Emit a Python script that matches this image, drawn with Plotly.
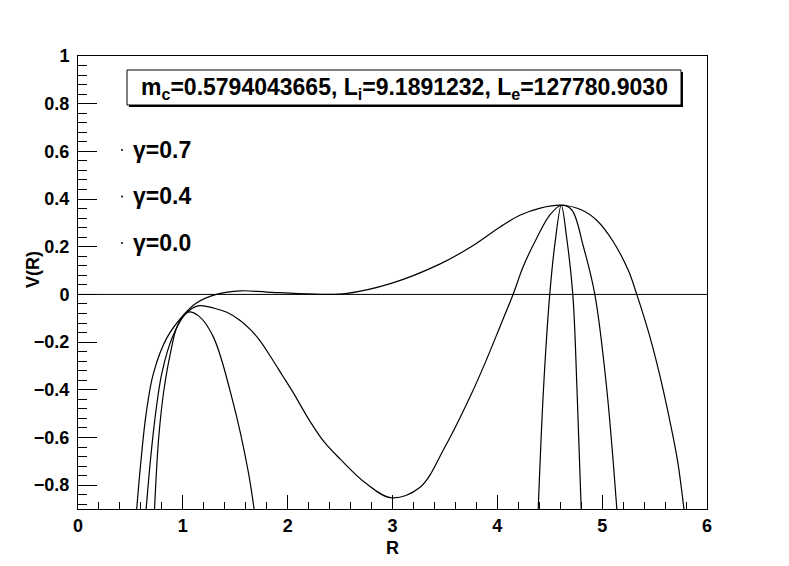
import plotly.graph_objects as go

# gamma = 0.0 curve
r_g00 = [0.56, 0.60, 0.65, 0.72, 0.85, 1.02, 1.13, 1.32, 1.55, 1.80, 2.10, 2.40, 2.55, 2.98, 3.45,
         3.75, 4.03, 4.22, 4.41, 4.61, 4.80, 4.95, 5.10, 5.25, 5.33, 5.45, 5.55, 5.65, 5.72, 5.78]
v_g00 = [-0.90, -0.70, -0.50, -0.33, -0.18, -0.08, -0.036, 0.0, 0.015, 0.010, 0.003, 0.0, 0.003, 0.045, 0.127,
         0.20, 0.284, 0.333, 0.362, 0.374, 0.355, 0.31, 0.225, 0.10, 0.0, -0.17, -0.34, -0.54, -0.70, -0.90]

# gamma = 0.4 curve
r_g04 = [0.65, 0.69, 0.74, 0.80, 0.90, 1.02, 1.145, 1.30, 1.42, 1.55, 1.65, 1.74, 1.85, 1.95, 2.05, 2.21, 2.35,
         2.50, 2.74, 2.99, 3.26, 3.50, 3.75, 3.90, 4.03, 4.15, 4.25, 4.38, 4.50, 4.61, 4.71, 4.82, 4.93, 5.04, 5.14]
v_g04 = [-0.90, -0.70, -0.50, -0.33, -0.18, -0.085, -0.048, -0.058, -0.075, -0.11, -0.15, -0.197, -0.27, -0.34, -0.41, -0.53, -0.62,
         -0.69, -0.79, -0.853, -0.81, -0.64, -0.42, -0.27, -0.13, 0.0, 0.12, 0.24, 0.333, 0.374, 0.354, 0.202, 0.0, -0.38, -0.90]

# gamma = 0.7 curve (two branches inside the visible range)
r_g07 = [0.73, 0.77, 0.82, 0.88, 0.95, 1.05, 1.15, 1.29, 1.48, 1.62, 1.68, None,
         4.39, 4.44, 4.50, 4.55, 4.61, 4.66, 4.72, 4.76, 4.80]
v_g07 = [-0.90, -0.60, -0.40, -0.25, -0.13, -0.074, -0.09, -0.177, -0.454, -0.734, -0.90, None,
         -0.90, -0.40, 0.0, 0.215, 0.374, 0.242, 0.0, -0.40, -0.90]

gamma_labels = ["γ=0.7", "γ=0.4", "γ=0.0"]
info_text = "m<sub>c</sub>=0.5794043665, L<sub>i</sub>=9.1891232, L<sub>e</sub>=127780.9030"

fig = go.Figure()
for xs, ys, name in [(r_g00, v_g00, "γ=0.0"), (r_g04, v_g04, "γ=0.4"), (r_g07, v_g07, "γ=0.7")]:
    fig.add_trace(go.Scatter(x=xs, y=ys, mode="lines", name=name,
                             line=dict(color="black", width=1.2, shape="spline", smoothing=1.0),
                             connectgaps=False, showlegend=False, hoverinfo="skip"))

# zero line
fig.add_shape(type="line", xref="x", yref="y", x0=0, x1=6, y0=0, y1=0,
              line=dict(color="black", width=1))

# The page body has an 8px margin; figure coords = screen coords - 8
OFF = 8
W, H = 789 - 2 * OFF, 566 - 2 * OFF
ml, mt = 78 - OFF, 56 - OFF
mr = W - (707 - OFF)
mb = H - (509 - OFF)
pw, ph = W - ml - mr, H - mt - mb

def px(x):
    return (x - OFF - ml) / pw

def py(y):
    return 1 - (y - OFF - mt) / ph

# info box with shadow
fig.add_shape(type="rect", xref="paper", yref="paper", x0=px(129), x1=px(683), y0=py(107), y1=py(72),
              fillcolor="black", line=dict(width=0), layer="above")
fig.add_shape(type="rect", xref="paper", yref="paper", x0=px(127), x1=px(681), y0=py(105), y1=py(70),
              fillcolor="white", line=dict(color="black", width=1), layer="above")
fig.add_annotation(xref="paper", yref="paper", x=px(404), y=py(88), text=info_text, showarrow=False,
                   font=dict(family="Liberation Sans", size=23, color="black", weight="bold"),
                   xanchor="center", yanchor="middle")

for i, lab in enumerate(gamma_labels):
    yy = 150 + i * 46.5
    fig.add_shape(type="circle", xref="paper", yref="paper",
                  x0=px(121), x1=px(123), y0=py(yy + 1), y1=py(yy - 1),
                  fillcolor="black", line=dict(width=0))
    fig.add_annotation(xref="paper", yref="paper", x=px(131), y=py(yy), text=lab, showarrow=False,
                       font=dict(family="Liberation Sans", size=23, color="black", weight="bold"),
                       xanchor="left", yanchor="middle")

axis_font = dict(family="Liberation Sans", size=18, color="black", weight="bold")

# y-axis title placed as rotated text
fig.add_annotation(xref="paper", yref="paper", x=px(33), y=py(270), text="V(R)", showarrow=False,
                   textangle=-90, font=axis_font, xanchor="center", yanchor="middle")

fig.update_layout(
    width=W, height=H,
    margin=dict(l=ml, r=mr, t=mt, b=mb, pad=0, autoexpand=False),
    paper_bgcolor="white", plot_bgcolor="white",
    xaxis=dict(range=[0, 6], dtick=1, tick0=0, ticks="inside", ticklen=14, tickcolor="black",
               showline=True, linecolor="black", linewidth=1, mirror=True, showgrid=False, zeroline=False,
               tickfont=axis_font, automargin=False,
               minor=dict(dtick=0.2, ticks="inside", ticklen=7, tickcolor="black", showgrid=False),
               title=dict(text="R", font=axis_font, standoff=10)),
    yaxis=dict(range=[-0.9, 1], dtick=0.2, tick0=0, ticks="inside", ticklen=19, tickcolor="black",
               showline=True, linecolor="black", linewidth=1, mirror=True, showgrid=False, zeroline=False,
               tickfont=axis_font, tickformat="~g", automargin=False, ticklabelstandoff=4,
               minor=dict(dtick=0.04, ticks="inside", ticklen=9, tickcolor="black", showgrid=False)),
)

fig.write_html("out.html")
